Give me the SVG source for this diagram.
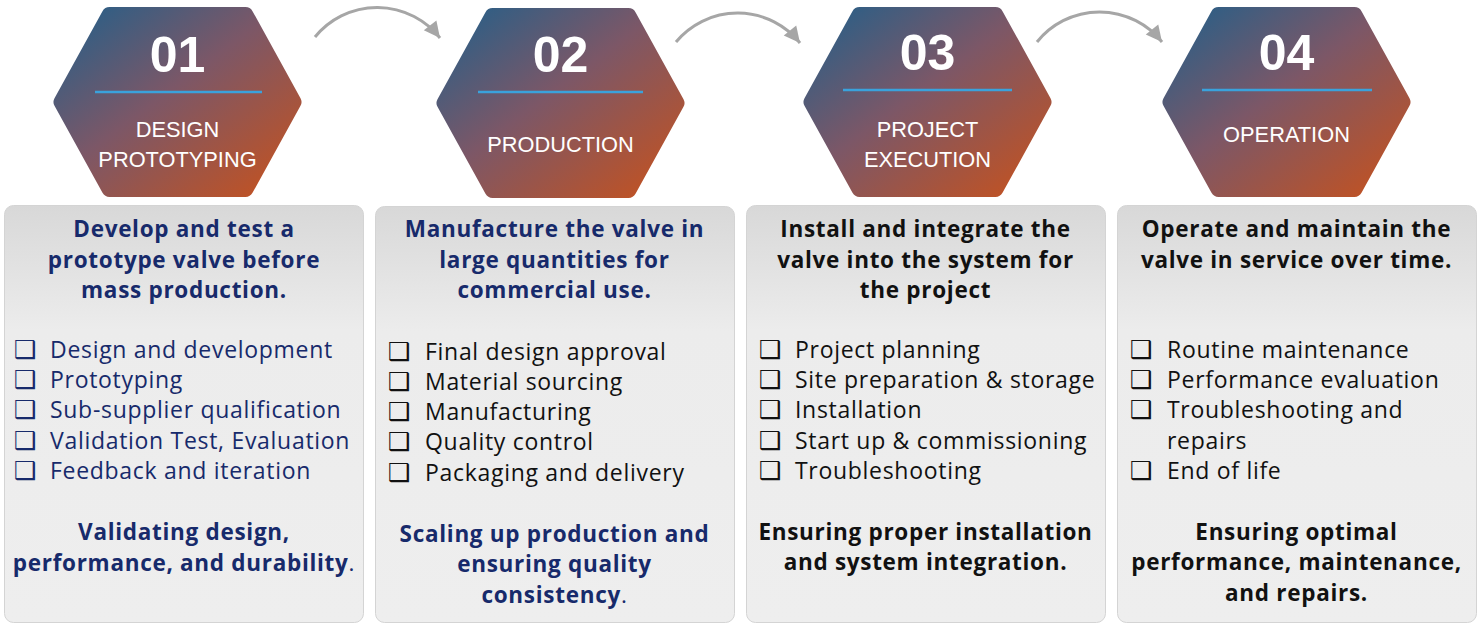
<svg xmlns="http://www.w3.org/2000/svg" width="1484" height="643" viewBox="0 0 1484 643">
<defs>
<linearGradient id="hexg" x1="0" y1="0" x2="1" y2="1">
<stop offset="0" stop-color="#265f88"/>
<stop offset="0.45" stop-color="#7c5767"/>
<stop offset="1" stop-color="#c5521f"/>
</linearGradient>
<linearGradient id="pang" x1="0" y1="0" x2="0" y2="1">
<stop offset="0" stop-color="#d8d8d8"/>
<stop offset="0.3" stop-color="#ececec"/>
<stop offset="1" stop-color="#eeeeee"/>
</linearGradient>
<marker id="ah" markerUnits="userSpaceOnUse" markerWidth="20" markerHeight="20" viewBox="0 0 20 20" refX="18" refY="10" orient="auto">
<path d="M2,2 L18,10 L2,18 z" fill="#a6a6a6"/>
</marker>
</defs>
<style>
.hex{fill:url(#hexg);stroke:url(#hexg);stroke-width:16;stroke-linejoin:round}
.hl{stroke:#3aa2dc;stroke-width:2.5}
.num{font-family:"Liberation Sans",Arial,sans-serif;font-weight:bold;font-size:50px;fill:#ffffff;text-anchor:middle}
.hlab{font-family:"Liberation Sans",Arial,sans-serif;font-size:21.8px;fill:#ffffff;text-anchor:middle}
.pan{fill:url(#pang);stroke:#d4d4d4;stroke-width:1}
.h{font-family:"Open Sans","Noto Sans",sans-serif;font-weight:bold;font-size:22.5px;letter-spacing:0.7px;text-anchor:middle}
.b{font-family:"Open Sans","Noto Sans",sans-serif;font-size:23px;letter-spacing:0.7px}
.cb{font-family:"DejaVu Sans",sans-serif;font-size:25px;font-weight:bold}
.navy{fill:#172a6b}
.blk{fill:#111111}
.arr{fill:none;stroke:#a6a6a6;stroke-width:3;marker-end:url(#ah)}
.n{font-weight:normal}
</style>
<g id="connectors">
<path class="arr" d="M315,37 A80,80 0 0 1 440,38"/>
<path class="arr" d="M676,42 A80,80 0 0 1 800,43"/>
<path class="arr" d="M1037,42 A80,80 0 0 1 1162,42"/>
</g>
<g id="hex1">
<polygon class="hex" points="109.5,15 245.5,15 293.5,102 245.5,189 109.5,189 61.5,102"/>
<text class="num" x="177.5" y="72">01</text>
<line class="hl" x1="95" y1="92" x2="262" y2="92"/>
<text class="hlab" x="177.5" y="137">DESIGN</text>
<text class="hlab" x="177.5" y="167">PROTOTYPING</text>
</g>
<g id="hex2">
<polygon class="hex" points="492.5,16 628.5,16 676.5,103 628.5,190 492.5,190 444.5,103"/>
<text class="num" x="560.5" y="72">02</text>
<line class="hl" x1="478" y1="92" x2="643" y2="92"/>
<text class="hlab" x="560.5" y="152">PRODUCTION</text>
</g>
<g id="hex3">
<polygon class="hex" points="859.5,15 995.5,15 1043.5,102 995.5,189 859.5,189 811.5,102"/>
<text class="num" x="927.5" y="70">03</text>
<line class="hl" x1="843" y1="90" x2="1012" y2="90"/>
<text class="hlab" x="927.5" y="137">PROJECT</text>
<text class="hlab" x="927.5" y="167">EXECUTION</text>
</g>
<g id="hex4">
<polygon class="hex" points="1218.5,15 1354.5,15 1402.5,102 1354.5,189 1218.5,189 1170.5,102"/>
<text class="num" x="1286.5" y="70">04</text>
<line class="hl" x1="1202" y1="90" x2="1372" y2="90"/>
<text class="hlab" x="1286.5" y="142">OPERATION</text>
</g>
<g id="panel1">
<rect class="pan" x="4.5" y="205.5" width="359" height="417" rx="9"/>
<text class="h navy"><tspan x="184" y="237">Develop and test a</tspan><tspan x="184" y="268">prototype valve before</tspan><tspan x="184" y="298">mass production.</tspan></text>
<text class="cb navy"><tspan x="14" y="358">❑</tspan><tspan x="14" y="388">❑</tspan><tspan x="14" y="418">❑</tspan><tspan x="14" y="449">❑</tspan><tspan x="14" y="479">❑</tspan></text>
<text class="b navy"><tspan x="50" y="358">Design and development</tspan><tspan x="50" y="388">Prototyping</tspan><tspan x="50" y="418">Sub-supplier qualification</tspan><tspan x="50" y="449">Validation Test, Evaluation</tspan><tspan x="50" y="479">Feedback and iteration</tspan></text>
<text class="h navy"><tspan x="184" y="540">Validating design,</tspan><tspan x="184" y="571">performance, and durability<tspan class="n">.</tspan></tspan></text>
</g>
<g id="panel2">
<rect class="pan" x="375.5" y="206.5" width="359" height="416" rx="9"/>
<text class="h navy"><tspan x="554.5" y="237">Manufacture the valve in</tspan><tspan x="554.5" y="268">large quantities for</tspan><tspan x="554.5" y="298">commercial use.</tspan></text>
<text class="cb blk"><tspan x="388" y="360">❑</tspan><tspan x="388" y="390">❑</tspan><tspan x="388" y="420">❑</tspan><tspan x="388" y="450">❑</tspan><tspan x="388" y="481">❑</tspan></text>
<text class="b blk"><tspan x="425" y="360">Final design approval</tspan><tspan x="425" y="390">Material sourcing</tspan><tspan x="425" y="420">Manufacturing</tspan><tspan x="425" y="450">Quality control</tspan><tspan x="425" y="481">Packaging and delivery</tspan></text>
<text class="h navy"><tspan x="554.5" y="542">Scaling up production and</tspan><tspan x="554.5" y="572">ensuring quality</tspan><tspan x="554.5" y="603">consistency<tspan class="n">.</tspan></tspan></text>
</g>
<g id="panel3">
<rect class="pan" x="746.5" y="205.5" width="359" height="417" rx="9"/>
<text class="h blk"><tspan x="925.5" y="237">Install and integrate the</tspan><tspan x="925.5" y="268">valve into the system for</tspan><tspan x="925.5" y="298">the project</tspan></text>
<text class="cb blk"><tspan x="759" y="358">❑</tspan><tspan x="759" y="388">❑</tspan><tspan x="759" y="418">❑</tspan><tspan x="759" y="449">❑</tspan><tspan x="759" y="479">❑</tspan></text>
<text class="b blk"><tspan x="795" y="358">Project planning</tspan><tspan x="795" y="388">Site preparation &amp; storage</tspan><tspan x="795" y="418">Installation</tspan><tspan x="795" y="449">Start up &amp; commissioning</tspan><tspan x="795" y="479">Troubleshooting</tspan></text>
<text class="h blk"><tspan x="925.5" y="540">Ensuring proper installation</tspan><tspan x="925.5" y="570">and system integration.</tspan></text>
</g>
<g id="panel4">
<rect class="pan" x="1117.5" y="205.5" width="359" height="417" rx="9"/>
<text class="h blk"><tspan x="1296.5" y="237">Operate and maintain the</tspan><tspan x="1296.5" y="268">valve in service over time.</tspan></text>
<text class="cb blk"><tspan x="1130" y="358">❑</tspan><tspan x="1130" y="388">❑</tspan><tspan x="1130" y="418">❑</tspan><tspan x="1130" y="479">❑</tspan></text>
<text class="b blk"><tspan x="1167" y="358">Routine maintenance</tspan><tspan x="1167" y="388">Performance evaluation</tspan><tspan x="1167" y="418">Troubleshooting and</tspan><tspan x="1167" y="449">repairs</tspan><tspan x="1167" y="479">End of life</tspan></text>
<text class="h blk"><tspan x="1296.5" y="540">Ensuring optimal</tspan><tspan x="1296.5" y="570">performance, maintenance,</tspan><tspan x="1296.5" y="601">and repairs.</tspan></text>
</g>
</svg>
